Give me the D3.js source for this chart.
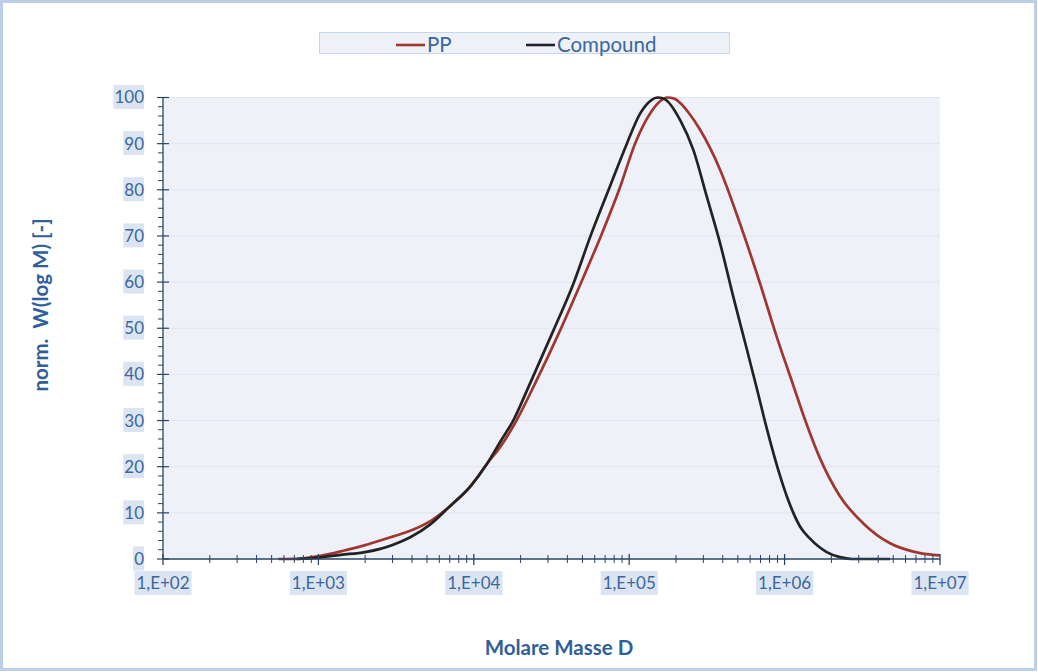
<!DOCTYPE html>
<html>
<head>
<meta charset="utf-8">
<script src="https://cdn.jsdelivr.net/npm/d3@7"></script>
<style>
  html, body { margin: 0; padding: 0; background: #ffffff; }
  svg { display: block; }
  text { font-family: Lato, "Open Sans", sans-serif; }
</style>
</head>
<body>
<svg id="chart" width="1038" height="672"></svg>
<script>
// ---------- data ----------
const seriesNames = ["PP", "Compound"];
const seriesColors = ["#a13530", "#222222"];

const ppMass = [552, 764, 1000, 1490, 2000, 2500, 3030, 3900, 5250, 7050, 9480, 12200, 14800, 18900, 24200, 36000, 50800, 66700, 87400, 109000, 136000, 158000, 175000, 197000, 213000, 240000, 286000, 385000, 516000, 695000, 889000, 1138000, 1320000, 1690000, 2270000, 3210000, 4770000, 6730000, 9060000, 10000000];
const ppW = [0, 0.1, 0.6, 1.9, 3.0, 4.0, 4.9, 6.1, 8.2, 11.5, 15.7, 20.7, 24.3, 30.1, 37.3, 49.6, 61.1, 70.5, 80.6, 90, 96.5, 99.2, 100, 99.7, 98.8, 96.8, 93.0, 84.3, 72.7, 59.7, 48.2, 37.6, 31.2, 21.8, 13.6, 7.7, 3.4, 1.6, 0.9, 0.8];

const compoundMass = [731, 1000, 1390, 2000, 2500, 3030, 3900, 5250, 7050, 9480, 12200, 14800, 18000, 22500, 32600, 43800, 56100, 73500, 96600, 117500, 136000, 153500, 170200, 212800, 259000, 315800, 384600, 467700, 571000, 662000, 767600, 935000, 1033000, 1138000, 1259000, 1458000, 1866000, 2271000, 2716000, 4775000];
const compoundW = [0, 0.3, 0.9, 1.5, 2.2, 3.1, 4.7, 7.5, 11.5, 15.7, 20.7, 25.4, 30.1, 37.3, 49.6, 59.7, 69.8, 79.9, 90, 96.5, 99.2, 100, 99.6, 95.1, 88.6, 78.5, 68.4, 56.8, 45.5, 37.0, 28.3, 18.0, 13.6, 10.0, 7.0, 4.4, 1.5, 0.4, 0, 0];

const xMajorTicks = [1e2, 1e3, 1e4, 1e5, 1e6, 1e7];
const xTickLabels = ["1,E+02", "1,E+03", "1,E+04", "1,E+05", "1,E+06", "1,E+07"];
const yMajorTicks = [0, 10, 20, 30, 40, 50, 60, 70, 80, 90, 100];

const xTitle = "Molare Masse D";
const yTitle = "norm.  W(log M) [-]";

// ---------- layout ----------
const svg = d3.select("#chart");
const W = 1038, H = 672;
const plot = { left: 163, right: 940, top: 97.5, bottom: 559 };
const textBlue = "#3b669d";
const titleBlue = "#30609a";
const labelBg = "#dbe5f1";
const axisColor = "#2a4468";

// outer frame
svg.append("rect")
  .attr("x", 1.5).attr("y", 1.5)
  .attr("width", W - 4).attr("height", H - 4)
  .attr("fill", "#ffffff")
  .attr("stroke", "#bccfe6").attr("stroke-width", 3);

const x = d3.scaleLog().domain([1e2, 1e7]).range([plot.left, plot.right]);
const y = d3.scaleLinear().domain([0, 100]).range([plot.bottom, plot.top]);

// plot background
svg.append("rect")
  .attr("x", plot.left).attr("y", plot.top)
  .attr("width", plot.right - plot.left).attr("height", plot.bottom - plot.top)
  .attr("fill", "#eef2f8");

// horizontal gridlines
svg.append("g").selectAll("line")
  .data(yMajorTicks.filter(d => d > 0))
  .join("line")
  .attr("x1", plot.left).attr("x2", plot.right)
  .attr("y1", d => y(d)).attr("y2", d => y(d))
  .attr("stroke", "#dde6f1").attr("stroke-width", 1);

// ---------- lines ----------
const lineGen = d3.line()
  .x(d => x(d[0]))
  .y(d => y(d[1]))
  .curve(d3.curveMonotoneX);

const series = [
  { mass: ppMass, w: ppW, color: seriesColors[0] },
  { mass: compoundMass, w: compoundW, color: seriesColors[1] }
];
series.forEach(s => {
  svg.append("path")
    .datum(d3.zip(s.mass, s.w))
    .attr("fill", "none")
    .attr("stroke", s.color)
    .attr("stroke-width", 2.7)
    .attr("stroke-linejoin", "round")
    .attr("d", lineGen);
});

// ---------- y axis ----------
const yMinor = d3.range(0, 101, 2).filter(d => d % 10 !== 0);
const yAxisG = svg.append("g");
yAxisG.append("line")
  .attr("x1", plot.left).attr("x2", plot.left)
  .attr("y1", plot.top).attr("y2", plot.bottom)
  .attr("stroke", axisColor).attr("stroke-width", 1.3);
yAxisG.selectAll("line.minor").data(yMinor).join("line")
  .attr("class", "minor")
  .attr("x1", plot.left - 5).attr("x2", plot.left)
  .attr("y1", d => y(d)).attr("y2", d => y(d))
  .attr("stroke", axisColor).attr("stroke-width", 1);
yAxisG.selectAll("line.major").data(yMajorTicks).join("line")
  .attr("class", "major")
  .attr("x1", plot.left - 6).attr("x2", plot.left + 6)
  .attr("y1", d => y(d)).attr("y2", d => y(d))
  .attr("stroke", axisColor).attr("stroke-width", 1.2);

const yLab = yAxisG.selectAll("g.ylab").data(yMajorTicks).join("g").attr("class", "ylab");
yLab.append("text")
  .attr("x", 144).attr("y", d => y(d))
  .attr("dy", "0.35em")
  .attr("text-anchor", "end")
  .attr("font-size", 17)
  .attr("fill", textBlue)
  .text(d => d);
yLab.each(function() {
  const t = d3.select(this).select("text");
  const b = t.node().getBBox();
  d3.select(this).insert("rect", "text")
    .attr("x", b.x - 1).attr("y", b.y + b.height / 2 - 12)
    .attr("width", b.width + 1).attr("height", 24)
    .attr("fill", labelBg);
});

// ---------- x axis ----------
const xMinor = [];
xMajorTicks.slice(0, -1).forEach(m => { for (let k = 2; k <= 9; k++) xMinor.push(m * k); });
const xAxisG = svg.append("g");
xAxisG.append("line")
  .attr("x1", plot.left).attr("x2", plot.right)
  .attr("y1", plot.bottom).attr("y2", plot.bottom)
  .attr("stroke", axisColor).attr("stroke-width", 1.3);
xAxisG.selectAll("line.minor").data(xMinor).join("line")
  .attr("class", "minor")
  .attr("x1", d => x(d)).attr("x2", d => x(d))
  .attr("y1", plot.bottom - 4).attr("y2", plot.bottom + 4)
  .attr("stroke", axisColor).attr("stroke-width", 1);
xAxisG.selectAll("line.major").data(xMajorTicks).join("line")
  .attr("class", "major")
  .attr("x1", d => x(d)).attr("x2", d => x(d))
  .attr("y1", plot.bottom - 5).attr("y2", plot.bottom + 6)
  .attr("stroke", axisColor).attr("stroke-width", 1.3);

const xLab = xAxisG.selectAll("g.xlab").data(xMajorTicks).join("g").attr("class", "xlab");
xLab.append("text")
  .attr("x", d => x(d)).attr("y", 583)
  .attr("dy", "0.35em")
  .attr("text-anchor", "middle")
  .attr("font-size", 17)
  .attr("fill", textBlue)
  .text((d, i) => xTickLabels[i]);
xLab.each(function() {
  const t = d3.select(this).select("text");
  const b = t.node().getBBox();
  d3.select(this).insert("rect", "text")
    .attr("x", b.x - 2).attr("y", 571)
    .attr("width", b.width + 4).attr("height", 24)
    .attr("fill", labelBg);
});

// ---------- titles ----------
svg.append("text")
  .attr("x", 559).attr("y", 655)
  .attr("text-anchor", "middle")
  .attr("font-size", 20.5).attr("font-weight", "bold")
  .attr("fill", titleBlue)
  .text(xTitle);

svg.append("text")
  .attr("transform", "translate(48,305) rotate(-90)")
  .attr("text-anchor", "middle")
  .attr("font-size", 20.5).attr("font-weight", "bold")
  .attr("fill", titleBlue)
  .attr("xml:space", "preserve")
  .style("white-space", "pre")
  .text(yTitle);

// ---------- legend ----------
const lg = svg.append("g");
lg.append("rect")
  .attr("x", 319.5).attr("y", 32.5).attr("width", 410).attr("height", 21)
  .attr("fill", "#eef2f8").attr("stroke", "#c6d7ec").attr("stroke-width", 1);
const legendItems = [
  { name: seriesNames[0], color: seriesColors[0], x0: 396 },
  { name: seriesNames[1], color: seriesColors[1], x0: 526 }
];
legendItems.forEach(it => {
  lg.append("line")
    .attr("x1", it.x0).attr("x2", it.x0 + 29)
    .attr("y1", 45).attr("y2", 45)
    .attr("stroke", it.color).attr("stroke-width", 2.6);
  lg.append("text")
    .attr("x", it.x0 + 31).attr("y", 45)
    .attr("dy", "0.35em")
    .attr("font-size", 20.5)
    .attr("fill", textBlue)
    .text(it.name);
});
</script>
</body>
</html>
